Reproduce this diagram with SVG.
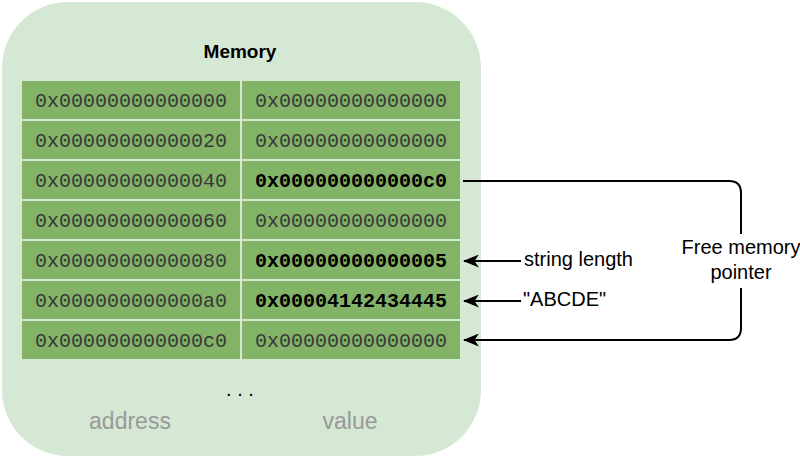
<svg xmlns="http://www.w3.org/2000/svg" width="800" height="458" viewBox="0 0 800 458">
<defs>
<style>
.cell{fill:#82b366;}
.mono{font-family:"Liberation Mono","Courier New",monospace;font-size:20px;text-anchor:middle;fill:#383838;}
.b{font-weight:bold;fill:#000000;}
.sans{font-family:"Liberation Sans",Arial,Helvetica,sans-serif;}
.lbl{font-size:20px;fill:#000000;}
.foot{font-size:23px;fill:#999999;text-anchor:middle;}
.conn{fill:none;stroke:#000000;stroke-width:2;}
</style>
<marker id="arr" viewBox="0 0 16 13" refX="15" refY="6.5" markerWidth="16" markerHeight="13" markerUnits="userSpaceOnUse" orient="auto">
<path d="M0,0 L16,6.5 L0,13 L4.5,6.5 Z" fill="#000000"/>
</marker>
</defs>
<rect width="800" height="458" fill="#ffffff"/>
<g id="memory">
<rect x="2" y="2" width="479" height="454" rx="66" ry="66" fill="#d5e8d4"/>
<text x="240" y="58" class="sans" font-size="19" font-weight="bold" text-anchor="middle">Memory</text>
<text x="240" y="396" class="sans" font-size="20" text-anchor="middle">. . .</text>
<text x="130" y="429" class="sans foot">address</text>
<text x="350" y="429" class="sans foot">value</text>
</g>
<g id="row0">
<rect class="cell" x="22" y="81" width="218" height="38"/>
<rect class="cell" x="242" y="81" width="218" height="38"/>
<text class="mono" x="131" y="107">0x00000000000000</text>
<text class="mono" x="351" y="107">0x00000000000000</text>
</g>
<g id="row1">
<rect class="cell" x="22" y="121" width="218" height="38"/>
<rect class="cell" x="242" y="121" width="218" height="38"/>
<text class="mono" x="131" y="147">0x00000000000020</text>
<text class="mono" x="351" y="147">0x00000000000000</text>
</g>
<g id="row2">
<rect class="cell" x="22" y="161" width="218" height="38"/>
<rect class="cell" x="242" y="161" width="218" height="38"/>
<text class="mono" x="131" y="187">0x00000000000040</text>
<text class="mono b" x="351" y="187">0x000000000000c0</text>
</g>
<g id="row3">
<rect class="cell" x="22" y="201" width="218" height="38"/>
<rect class="cell" x="242" y="201" width="218" height="38"/>
<text class="mono" x="131" y="227">0x00000000000060</text>
<text class="mono" x="351" y="227">0x00000000000000</text>
</g>
<g id="row4">
<rect class="cell" x="22" y="241" width="218" height="38"/>
<rect class="cell" x="242" y="241" width="218" height="38"/>
<text class="mono" x="131" y="267">0x00000000000080</text>
<text class="mono b" x="351" y="267">0x00000000000005</text>
</g>
<g id="row5">
<rect class="cell" x="22" y="281" width="218" height="38"/>
<rect class="cell" x="242" y="281" width="218" height="38"/>
<text class="mono" x="131" y="307">0x000000000000a0</text>
<text class="mono b" x="351" y="307">0x00004142434445</text>
</g>
<g id="row6">
<rect class="cell" x="22" y="321" width="218" height="38"/>
<rect class="cell" x="242" y="321" width="218" height="38"/>
<text class="mono" x="131" y="347">0x000000000000c0</text>
<text class="mono" x="351" y="347">0x00000000000000</text>
</g>
<g id="label-string-length">
<text x="524" y="266" class="sans lbl">string length</text>
</g>
<g id="label-abcde">
<text x="523" y="306" class="sans lbl">"ABCDE"</text>
</g>
<g id="connectors">
<path class="conn" d="M463,181 L729,181 Q741,181 741,193 L741,328 Q741,340 729,340 L464,340" marker-end="url(#arr)"/>
<path class="conn" d="M521,261 L464,261" marker-end="url(#arr)"/>
<path class="conn" d="M521,301 L464,301" marker-end="url(#arr)"/>
<rect x="676" y="234" width="130" height="54" fill="#ffffff"/>
<text x="741" y="254" class="sans lbl" text-anchor="middle">Free memory</text>
<text x="741" y="279" class="sans lbl" text-anchor="middle">pointer</text>
</g>
</svg>
